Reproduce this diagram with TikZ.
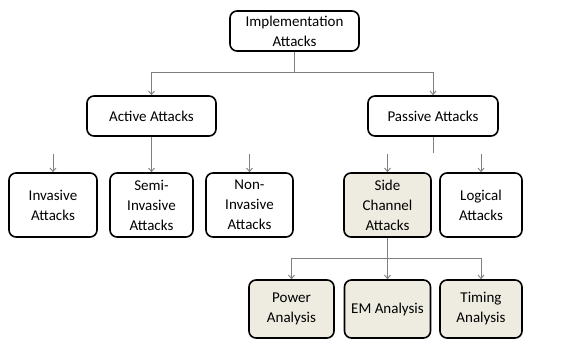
\documentclass[tikz,border=0pt]{standalone}
\usepackage{fontspec}
\setmainfont{Carlito}
\usetikzlibrary{arrows.meta}
\definecolor{beige}{HTML}{EEECE1}
\definecolor{conn}{HTML}{7F7F7F}
\tikzset{
  box/.style={draw=black, line width=1.6pt, rounded corners=7pt, fill=white, align=center,
    inner sep=0pt, font=\fontsize{15}{20}\selectfont, text=black},
  shaded/.style={box, fill=beige},
  conline/.style={draw=conn, line width=0.9pt},
  conarrow/.style={conline, -{Straight Barb[length=3.5pt,width=6pt,line width=0.9pt]}}
}
\begin{document}
\begin{tikzpicture}[x=1pt,y=-1pt]
\useasboundingbox (0,0) rectangle (562,338);
% top
\node[box, minimum width=129pt, minimum height=40pt] (impl) at (294.5,31) {Implementation\\Attacks};
\node[box, minimum width=129pt, minimum height=40pt] (active) at (151.5,116) {Active Attacks};
\node[box, minimum width=130pt, minimum height=40pt] (passive) at (433,116) {Passive Attacks};
% row 2
\node[box, minimum width=88pt, minimum height=64pt] (inv) at (53,205) {Invasive\\Attacks};
\node[box, minimum width=83pt, minimum height=64pt] (semi) at (151.5,205) {Semi-\\Invasive\\Attacks};
\node[box, minimum width=87pt, minimum height=64pt] (non) at (249.5,205) {Non-\\Invasive\\Attacks};
\node[shaded, minimum width=87pt, minimum height=64pt] (side) at (387.5,205) {Side\\Channel\\Attacks};
\node[box, minimum width=82pt, minimum height=64pt] (logic) at (481,205) {Logical\\Attacks};
% row 3
\node[shaded, minimum width=85pt, minimum height=58pt] (power) at (291.5,309) {Power\\Analysis};
\node[shaded, minimum width=86pt, minimum height=58pt] (em) at (387.5,309) {EM Analysis};
\node[shaded, minimum width=82pt, minimum height=58pt] (timing) at (481,309) {Timing\\Analysis};
% coordinates
\coordinate (j1) at (294.5,72);
\coordinate (pend) at (433,153);
\coordinate (ainv) at (53,154);
\coordinate (anon) at (249.5,154);
\coordinate (aside) at (387.5,154);
\coordinate (alog) at (481,154);
\coordinate (j2) at (387.5,258);
% connectors
\draw[conline] (impl.south) -- (j1);
\draw[conarrow] (j1) -| (active.north);
\draw[conarrow] (j1) -| (passive.north);
\draw[conarrow] (active.south) -- (semi.north);
\draw[conline] (passive.south) -- (pend);
\draw[conarrow] (ainv) -- (inv.north);
\draw[conarrow] (anon) -- (non.north);
\draw[conarrow] (aside) -- (side.north);
\draw[conarrow] (alog) -- (logic.north);
\draw[conarrow] (side.south) -- (em.north);
\draw[conarrow] (j2) -| (power.north);
\draw[conarrow] (j2) -| (timing.north);
\end{tikzpicture}
\end{document}
